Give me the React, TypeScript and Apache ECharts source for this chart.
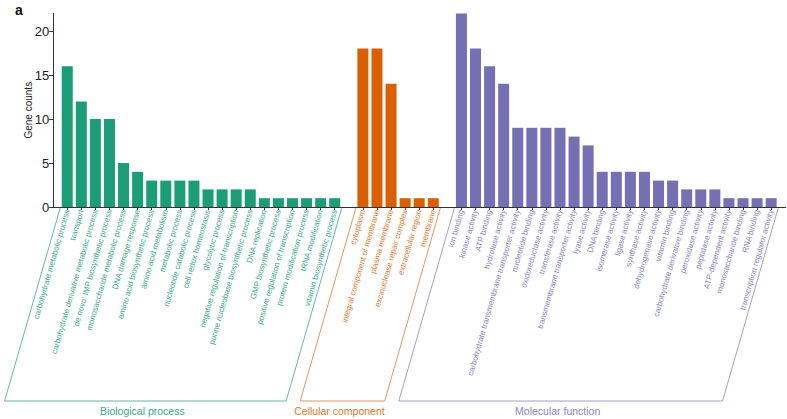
import React, { useEffect, useRef } from 'react';
import * as echarts from 'echarts';

const bpNames = [
  'carbohydrate metabolic process',
  'transport',
  'carbohydrate derivative metabolic process',
  "'de novo' IMP biosynthetic process",
  'monosaccharide metabolic process',
  'DNA damage response',
  'amino acid biosynthetic process',
  'amino acid metabolism',
  'metabolic process',
  'nucleotide catabolic process',
  'cell redox homeostasis',
  'glycolytic process',
  'negative regulation of transcription',
  'purine nucleobase biosynthetic process',
  'DNA replication',
  'GMP biosynthetic process',
  'positive regulation of transcription',
  'protein modification process',
  'tRNA modification',
  'vitamin biosynthetic process',
];
const bpValues = [16, 12, 10, 10, 5, 4, 3, 3, 3, 3, 2, 2, 2, 2, 1, 1, 1, 1, 1, 1];

const ccNames = [
  'cytoplasm',
  'integral component of membrane',
  'plasma membrane',
  'excinuclease repair complex',
  'extracellular region',
  'membrane',
];
const ccValues = [18, 18, 14, 1, 1, 1];

const mfNames = [
  'ion binding',
  'kinase activity',
  'ATP binding',
  'hydrolase activity',
  'carbohydrate transmembrane transporter activity',
  'nucleotide binding',
  'oxidoreductase activity',
  'transferase activity',
  'transmembrane transporter activity',
  'lyase activity',
  'DNA binding',
  'isomerase activity',
  'ligase activity',
  'synthase activity',
  'dehydrogenase activity',
  'vitamin binding',
  'carbohydrate derivative binding',
  'peroxidase activity',
  'peptidase activity',
  'ATP-dependent activity',
  'monosaccharide binding',
  'RNA binding',
  'transcription regulator activity',
];
const mfValues = [22, 18, 16, 14, 9, 9, 9, 9, 8, 7, 4, 4, 4, 4, 3, 3, 2, 2, 2, 1, 1, 1, 1];

const groupTitles = ['Biological process', 'Cellular component', 'Molecular function'];
const groupColors = ['#1b9e77', '#d95f02', '#7570b3'];
const labelColors = ['#3aa88a', '#df7a30', '#8a86be'];
const yTicks = [0, 5, 10, 15, 20];
const yMax = 22;

const W = 787;
const H = 419;
const FONT = '"Liberation Sans", Arial, sans-serif';

export default function App() {
  const ref = useRef<HTMLDivElement>(null);

  useEffect(() => {
    document.body.style.margin = '0';
    if (!ref.current) return;
    const chart = echarts.init(ref.current, undefined, { renderer: 'svg' });

    const groups = [
      { names: bpNames, values: bpValues },
      { names: ccNames, values: ccValues },
      { names: mfNames, values: mfValues },
    ];
    const categories: string[] = [];
    const groupOf: number[] = [];
    const valueOf: number[] = [];
    const ranges: [number, number][] = [];
    groups.forEach((g, gi) => {
      if (gi > 0) {
        categories.push(' '.repeat(gi));
        groupOf.push(-1);
        valueOf.push(0);
      }
      const start = categories.length;
      g.names.forEach((n, i) => {
        categories.push(n);
        groupOf.push(gi);
        valueOf.push(g.values[i]);
      });
      ranges.push([start, categories.length]);
    });

    const gridLeft = 60.2;
    const gridRight = 8.8;
    const axisY = 207;
    const gridTop = 13.4;
    const gridBottom = H - axisY;
    const slotW = (W - gridLeft - gridRight) / categories.length;
    const angle = 74;
    const bracketBottom = 401;
    const d = (bracketBottom - axisY) / Math.tan((angle * Math.PI) / 180);

    const series = groupColors.map((c, gi) => ({
      type: 'bar',
      stack: 'all',
      barWidth: 11,
      itemStyle: { color: c },
      data: categories.map((_, i) => (groupOf[i] === gi ? valueOf[i] : null)),
    }));

    const graphics: any[] = [
      {
        type: 'line',
        shape: { x1: 53, y1: axisY + 0.5, x2: 786, y2: axisY + 0.5 },
        style: { stroke: '#333', lineWidth: 1 },
        z: 10,
      },
      {
        type: 'text',
        x: 15,
        y: 3,
        style: { text: 'a', fontSize: 14, fontWeight: 'bold', fontFamily: FONT, fill: '#111' },
      },
    ];
    ranges.forEach(([s, e], gi) => {
      const xl = gridLeft + s * slotW;
      const xr = gridLeft + e * slotW;
      graphics.push({
        type: 'polyline',
        shape: {
          points: [
            [xl, axisY + 1],
            [xl - d, bracketBottom],
            [xr - d, bracketBottom],
            [xr, axisY + 1],
          ],
        },
        style: { stroke: labelColors[gi], fill: 'none', lineWidth: 0.8 },
      });
      graphics.push({
        type: 'text',
        x: (xl + xr) / 2 - d - 3,
        y: 411,
        style: {
          text: groupTitles[gi],
          fontSize: 10.5,
          fontFamily: FONT,
          fill: labelColors[gi],
          align: 'center',
          verticalAlign: 'middle',
        },
      });
    });

    chart.setOption({
      animation: false,
      grid: { left: gridLeft, right: gridRight, top: gridTop, bottom: gridBottom, containLabel: false },
      xAxis: {
        type: 'category',
        data: categories,
        axisLine: { show: false },
        axisTick: {
          show: true,
          alignWithLabel: true,
          length: 3,
          interval: (_i: number, v: string) => v.trim() !== '',
          lineStyle: { color: '#333' },
        },
        axisLabel: {
          interval: 0,
          rotate: angle,
          fontSize: 8,
          fontFamily: FONT,
          margin: 3,
          color: (_v: string, i: number) => (groupOf[i] >= 0 ? labelColors[groupOf[i]] : '#fff'),
        },
        splitLine: { show: false },
      },
      yAxis: {
        type: 'value',
        min: 0,
        max: yMax,
        offset: 7,
        name: 'Gene counts',
        nameLocation: 'middle',
        nameGap: 20,
        nameMoveOverlap: false,
        nameTextStyle: { fontSize: 10, fontFamily: FONT, color: '#222' },
        axisLine: { show: true, lineStyle: { color: '#333' } },
        axisTick: { show: true, length: 4, customValues: yTicks, lineStyle: { color: '#333' } },
        axisLabel: { customValues: yTicks, fontSize: 13, fontFamily: FONT, color: '#222', margin: 4 },
        splitLine: { show: false },
      },
      series,
      graphic: graphics,
    });

    return () => chart.dispose();
  }, []);

  return <div ref={ref} style={{ width: W, height: H }} />;
}
